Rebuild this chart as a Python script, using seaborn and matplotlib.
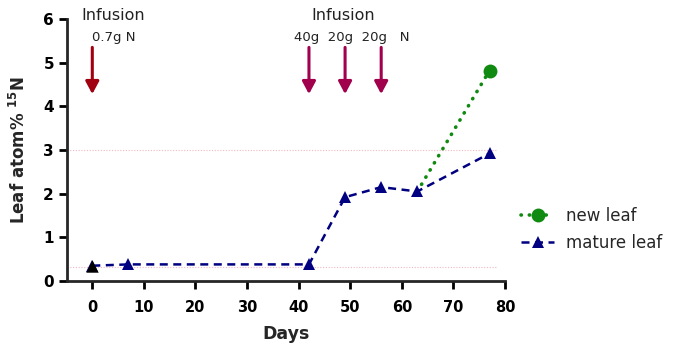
import numpy as np
import pandas as pd
import matplotlib
matplotlib.use("Agg")
import matplotlib.pyplot as plt
import seaborn as sns

# === data ===
mature_days = [0, 7, 42, 49, 56, 63, 77]
mature_n15 = [0.35, 0.38, 0.38, 1.92, 2.15, 2.05, 2.92]
new_days = [63, 77]
new_n15 = [2.05, 4.82]
ref_levels = [0.32, 3.0]
infusion_days = [0, 42, 49, 56]
infusion_colors = ["#a00010", "#a0004c", "#a0004c", "#a0004c"]
x_ticks = list(range(0, 81, 10))
y_ticks = list(range(0, 7))

sns.set_style("ticks")
plt.rcParams["font.family"] = ["DejaVu Sans"]
plt.rcParams["mathtext.fontset"] = "custom"
plt.rcParams["mathtext.rm"] = "DejaVu Sans:bold"
plt.rcParams["mathtext.bf"] = "DejaVu Sans:bold"
plt.rcParams["mathtext.default"] = "bf"

navy = "#000080"
green = "#108a10"
txt = "#222222"

fig = plt.figure(figsize=(6.84, 3.45), dpi=100)
ax = fig.add_axes([66.5 / 684, 1 - 281 / 345, (505 - 66.5) / 684, (281 - 19) / 345])

# reference lines
for lv in ref_levels:
    ax.axhline(lv, xmin=0, xmax=0.98, color="#f2b8c6", lw=0.8, ls=(0, (1, 1.5)), zorder=0)

mature = pd.DataFrame({"day": mature_days, "n15": mature_n15})
new = pd.DataFrame({"day": new_days, "n15": new_n15})

sns.lineplot(data=new, x="day", y="n15", ax=ax, color=green, lw=2.6,
             linestyle=(0, (0.1, 2.2)), dash_capstyle="round",
             marker="o", markersize=10, markeredgewidth=0, markevery=[1],
             sort=False, label="new leaf", zorder=3)
sns.lineplot(data=mature, x="day", y="n15", ax=ax, color=navy, lw=1.8,
             linestyle=(0, (3.2, 2.2)), marker="^", markersize=9,
             markeredgewidth=0, sort=False, label="mature leaf", zorder=4)
# first point is drawn black
sns.scatterplot(x=mature_days[:1], y=mature_n15[:1], ax=ax, color="black",
                marker="^", s=80, linewidth=0, zorder=5, legend=False)

# infusion arrows
for d, c in zip(infusion_days, infusion_colors):
    ax.annotate("", xy=(d, 4.28), xytext=(d, 5.35), annotation_clip=False,
                arrowprops=dict(arrowstyle="-|>,head_length=0.75,head_width=0.4",
                                color=c, lw=2.2, shrinkA=0, shrinkB=0))

ax.text(4.1, 6.09, "Infusion", ha="center", va="center", fontsize=11.5, color=txt, clip_on=False)
ax.text(4.1, 5.58, "0.7g N", ha="center", va="center", fontsize=9.5, color=txt, clip_on=False)
ax.text(48.6, 6.09, "Infusion", ha="center", va="center", fontsize=11.5, color=txt, clip_on=False)
ax.text(50.3, 5.58, "40g  20g  20g   N", ha="center", va="center", fontsize=9.5, color=txt, clip_on=False)

ax.set_xlim(-5, 80)
ax.set_ylim(0, 6)
ax.set_xticks(x_ticks)
ax.set_yticks(y_ticks)
ax.set_xlabel("Days", fontsize=12.5, fontweight="bold", labelpad=7)
ax.set_ylabel("Leaf atom% $^{15}$N", fontsize=12, fontweight="bold", labelpad=10)
ax.tick_params(axis="both", direction="out", length=6, width=2, colors="black")
ax.tick_params(axis="x", labelsize=10.5, pad=8)
ax.tick_params(axis="y", labelsize=11, pad=3)
for lab in ax.get_xticklabels() + ax.get_yticklabels():
    lab.set_fontweight("bold")
for s in ["left", "bottom"]:
    ax.spines[s].set_linewidth(2)
sns.despine(ax=ax)

leg = ax.get_legend()
if leg is not None:
    leg.remove()
h, l = ax.get_legend_handles_labels()
fig.legend(h, l, loc="upper left", bbox_to_anchor=(506 / 684, 1 - 192 / 345),
           frameon=False, fontsize=12, handlelength=2.0, handletextpad=0.7,
           labelspacing=0.55)

fig.savefig("out.png", dpi=100)
